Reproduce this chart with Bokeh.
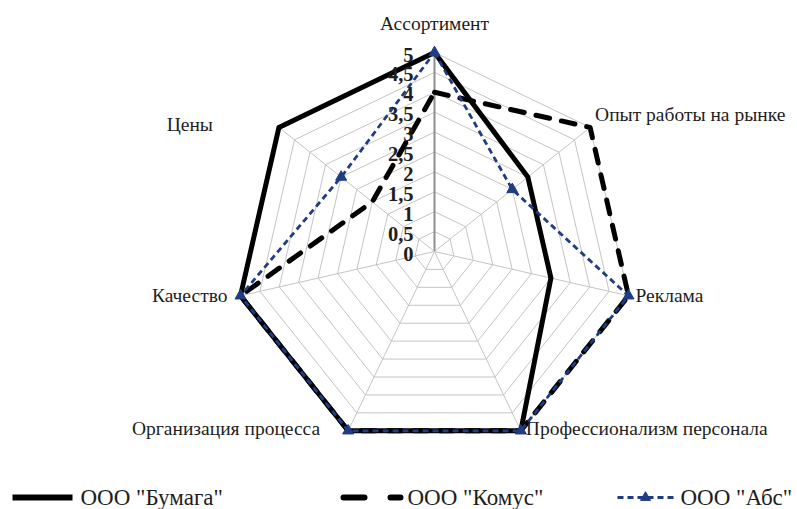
import numpy as np
from bokeh.plotting import figure
from bokeh.models import Range1d
from bokeh.core.properties import value
from bokeh.embed import file_html
from bokeh.resources import INLINE

# ---- data ----
categories = ["Ассортимент", "Опыт работы на рынке", "Реклама",
              "Профессионализм персонала", "Организация процесса", "Качество", "Цены"]
bumaga = [5, 3, 3, 5, 5, 5, 5]
komus = [4, 5, 5, 5, 5, 5, 2]
abc = [5, 2.5, 5, 5, 5, 5, 3]
series_names = ['ООО "Бумага"', 'ООО "Комус"', 'ООО "Абс"']
ticks = [0, 0.5, 1, 1.5, 2, 2.5, 3, 3.5, 4, 4.5, 5]
tick_labels = ["0", "0,5", "1", "1,5", "2", "2,5", "3", "3,5", "4", "4,5", "5"]

# ---- geometry ----
U = 39.8            # pixels per value unit
W, H = 797, 509
CX, CY = 434, 251   # centre in figure pixels
n = len(categories)
ang = np.pi / 2 - 2 * np.pi * np.arange(n) / n
cosv, sinv = np.cos(ang), np.sin(ang)
vmax = max(ticks)


def poly(vals):
    v = np.asarray(vals, dtype=float)
    xs = list(v * cosv) + [v[0] * cosv[0]]
    ys = list(v * sinv) + [v[0] * sinv[0]]
    return xs, ys


def px(d):
    return d / U


p = figure(width=W, height=H,
           x_range=Range1d(-CX / U, (W - CX) / U),
           y_range=Range1d(-(H - CY) / U, CY / U),
           output_backend="svg", toolbar_location=None,
           x_axis_type=None, y_axis_type=None,
           min_border=0, outline_line_color=None,
           background_fill_color="white", border_fill_color="white")
p.grid.visible = False

FONT = value("Liberation Serif")
TXT = "#1e1e1e"
NAVY = "#1f3c84"

# rings
for t in ticks[1:]:
    xs, ys = poly([t] * n)
    p.line(xs, ys, line_color="#c4c4c4", line_width=1)

# spokes
for i in range(n):
    col = "#8f8f8f" if i == 0 else "#c4c4c4"
    lw = 2 if i == 0 else 1
    p.segment(x0=[0], y0=[0], x1=[vmax * cosv[i]], y1=[vmax * sinv[i]],
              line_color=col, line_width=lw)

# series
xs, ys = poly(bumaga)
p.line(xs, ys, line_color="black", line_width=5, line_join="miter")
xs, ys = poly(komus)
p.line(xs, ys, line_color="black", line_width=5, line_dash="14 12",
       line_cap="round", line_join="round")
xs, ys = poly(abc)
p.line(xs, ys, line_color=NAVY, line_width=2.8, line_dash="6 4")
p.scatter(xs[:-1], ys[:-1], marker="triangle", size=11, color=NAVY)

# value labels
for t, lab in zip(ticks, tick_labels):
    p.text([px(-21)], [t + px(-2)], text=[lab], text_align="right",
           text_baseline="middle", text_font=FONT, text_font_size="20.5px",
           text_font_style="bold", text_color=TXT)

# category labels (pixel offsets from the outer vertex)
lab_style = [
    (0, 29, "center"),
    (5, 13, "left"),
    (7, 0, "left"),
    (5, 2, "left"),
    (-28, 2, "right"),
    (-13, 0, "right"),
    (-66, 3, "right"),
]
for i, (c, (dx, dy, al)) in enumerate(zip(categories, lab_style)):
    p.text([vmax * cosv[i] + px(dx)], [vmax * sinv[i] + px(dy)], text=[c],
           text_align=al, text_baseline="middle", text_font=FONT,
           text_font_size="19.5px", text_color=TXT)

# legend (manual, in pixel offsets from the centre)
ly = px(CY - 497)
leg = [
    (12, 72, 80, dict(line_color="black", line_width=6)),
    (343, 400, 407, dict(line_color="black", line_width=6, line_dash="21 26", line_cap="round")),
    (617, 673, 680, dict(line_color=NAVY, line_width=2.8, line_dash="6 4")),
]
for (a, b, tx, st), name in zip(leg, series_names):
    p.line([px(a - CX), px(b - CX)], [ly, ly], **st)
    p.text([px(tx - CX)], [ly], text=[name], text_align="left",
           text_baseline="middle", text_font=FONT, text_font_size="23px",
           text_color=TXT)
p.scatter([px(645 - CX)], [ly], marker="triangle", size=10, color=NAVY)

open("out.html", "w").write(file_html(p, INLINE))
